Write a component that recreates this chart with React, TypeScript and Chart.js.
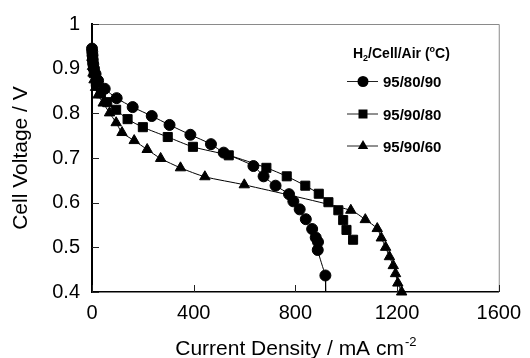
import React, { useEffect, useRef } from 'react';
import { Chart, registerables } from 'chart.js';
Chart.register(...registerables);

// ---- data (current density mA/cm², cell voltage V) ----
const circleX = [0, 1, 2, 3, 5, 8, 14, 24, 50, 97, 160, 235, 305, 387, 468, 518, 635, 675, 722, 775, 792, 817, 841, 866, 880, 889, 888, 918];
const circleY = [0.945, 0.938, 0.93, 0.92, 0.91, 0.9, 0.888, 0.873, 0.855, 0.834, 0.814, 0.794, 0.774, 0.752, 0.731, 0.712, 0.682, 0.659, 0.638, 0.619, 0.603, 0.585, 0.563, 0.541, 0.522, 0.512, 0.494, 0.437];
const circleTailX = [918, 919];
const circleTailY = [0.437, 0.4];

const squareX = [0, 2, 4, 7, 15, 35, 60, 95, 140, 200, 298, 397, 538, 686, 766, 839, 892, 930, 969, 988, 1001, 1027];
const squareY = [0.935, 0.92, 0.905, 0.89, 0.87, 0.845, 0.825, 0.808, 0.787, 0.769, 0.747, 0.725, 0.706, 0.678, 0.659, 0.638, 0.62, 0.601, 0.583, 0.561, 0.539, 0.517];

const triangleX = [0, 2, 4, 8, 14, 24, 44, 69, 95, 118, 166, 217, 270, 348, 444, 599, 1018, 1075, 1122, 1138, 1155, 1170, 1185, 1194, 1203, 1218];
const triangleY = [0.925, 0.905, 0.89, 0.875, 0.858, 0.841, 0.823, 0.801, 0.779, 0.757, 0.739, 0.719, 0.699, 0.678, 0.658, 0.64, 0.583, 0.562, 0.542, 0.521, 0.5, 0.479, 0.459, 0.441, 0.42, 0.4];

const seriesLabels = ['95/80/90', '95/90/80', '95/90/60'];
const seriesStyles = ['circle', 'rect', 'triangle'];
const xTicks = [0, 400, 800, 1200, 1600];
const yTicks = [0.4, 0.5, 0.6, 0.7, 0.8, 0.9, 1];

const FONT = '"Liberation Sans", Arial, Helvetica, sans-serif';

const pts = (xs: number[], ys: number[]) => xs.map((x, i) => ({ x, y: ys[i] }));

const framePlugin = {
  id: 'frameTicks',
  beforeDatasetsDraw(chart: any) {
    const { ctx, chartArea: a, scales } = chart;
    ctx.save();
    ctx.strokeStyle = '#8a8a8a';
    ctx.lineWidth = 1;
    ctx.beginPath();
    ctx.moveTo(a.left, a.top + 0.5);
    ctx.lineTo(a.right + 0.5, a.top + 0.5);
    ctx.lineTo(a.right + 0.5, a.bottom);
    ctx.stroke();
    ctx.strokeStyle = '#222';
    ctx.beginPath();
    for (const v of xTicks) {
      const px = Math.round(scales.x.getPixelForValue(v)) + 0.5;
      ctx.moveTo(px, a.bottom);
      ctx.lineTo(px, a.bottom - 7);
    }
    for (const v of yTicks) {
      const py = Math.round(scales.y.getPixelForValue(v)) + 0.5;
      ctx.moveTo(a.left, py);
      ctx.lineTo(a.left + 7, py);
    }
    ctx.stroke();
    ctx.restore();
  },
};

function drawMarker(ctx: CanvasRenderingContext2D, style: string, x: number, y: number) {
  ctx.beginPath();
  if (style === 'circle') {
    ctx.arc(x, y, 5.5, 0, Math.PI * 2);
  } else if (style === 'rect') {
    ctx.rect(x - 4.5, y - 4.5, 9, 9);
  } else {
    const r = 6;
    ctx.moveTo(x, y - r);
    ctx.lineTo(x + r * Math.sin((2 * Math.PI) / 3), y + r / 2);
    ctx.lineTo(x - r * Math.sin((2 * Math.PI) / 3), y + r / 2);
    ctx.closePath();
  }
  ctx.fill();
}

const annotPlugin = {
  id: 'annot',
  afterDraw(chart: any) {
    const { ctx, chartArea: a } = chart;
    ctx.save();
    ctx.fillStyle = '#000';
    ctx.textBaseline = 'alphabetic';
    ctx.textAlign = 'left';
    // legend title: H2/Cell/Air (oC)
    let x = a.left + 261;
    const ty = a.top + 34;
    const big = `bold 14px ${FONT}`;
    const small = `bold 9px ${FONT}`;
    const parts: [string, string, number][] = [
      ['H', big, 0],
      ['2', small, 3],
      ['/Cell/Air (', big, 0],
      ['o', small, -6],
      ['C)', big, 0],
    ];
    for (const [t, f, dy] of parts) {
      ctx.font = f;
      ctx.fillText(t, x, ty + dy);
      x += ctx.measureText(t).width;
    }
    const itemBase = [a.top + 63, a.top + 95.5, a.top + 127.5];
    seriesLabels.forEach((lab, i) => {
      const by = itemBase[i];
      const my = by - 5.5;
      ctx.strokeStyle = '#222';
      ctx.lineWidth = 1;
      ctx.beginPath();
      ctx.moveTo(a.left + 255, my);
      ctx.lineTo(a.left + 286, my);
      ctx.stroke();
      drawMarker(ctx, seriesStyles[i], a.left + 271, my);
      ctx.font = `bold 15px ${FONT}`;
      ctx.fillText(lab, a.left + 291, by);
    });
    // x axis title with superscript
    const main = 'Current Density / mA cm';
    const sup = '-2';
    ctx.font = `21px ${FONT}`;
    const wMain = ctx.measureText(main).width;
    ctx.font = `13px ${FONT}`;
    const wSup = ctx.measureText(sup).width;
    const cx = (a.left + a.right) / 2;
    const sx = cx - (wMain + wSup) / 2;
    const base = 355;
    ctx.font = `21px ${FONT}`;
    ctx.fillText(main, sx, base);
    ctx.font = `13px ${FONT}`;
    ctx.fillText(sup, sx + wMain + 1, base - 9);
    ctx.restore();
  },
};

export default function App() {
  const ref = useRef<HTMLCanvasElement>(null);
  useEffect(() => {
    document.body.style.margin = '0';
    const canvas = ref.current!;
    const common = {
      borderColor: '#000',
      backgroundColor: '#000',
      pointBackgroundColor: '#000',
      pointBorderColor: '#000',
      borderWidth: 1,
      tension: 0.25,
      clip: false as any,
    };
    const chart = new Chart(canvas, {
      type: 'line',
      data: {
        datasets: [
          { ...common, label: seriesLabels[0], data: pts(circleTailX, circleTailY), pointRadius: 0, tension: 0 },
          { ...common, label: seriesLabels[0], data: pts(circleX, circleY), pointStyle: 'circle', pointRadius: 5.5 },
          { ...common, label: seriesLabels[1], data: pts(squareX, squareY), pointStyle: 'rect', pointRadius: 6.4 },
          { ...common, label: seriesLabels[2], data: pts(triangleX, triangleY), pointStyle: 'triangle', pointRadius: 6 },
        ],
      },
      options: {
        responsive: false,
        animation: false,
        devicePixelRatio: 1,
        layout: { padding: { left: 0, right: 23, top: 17, bottom: 0 } },
        plugins: { legend: { display: false }, tooltip: { enabled: false } },
        elements: { point: { borderWidth: 0, hoverRadius: 0 } },
        scales: {
          x: {
            type: 'linear',
            min: 0,
            max: 1600,
            afterBuildTicks: (s: any) => { s.ticks = xTicks.map((v) => ({ value: v })); },
            afterFit: (s: any) => { s.height = 66; },
            grid: { display: true, drawOnChartArea: false, drawTicks: false },
            border: { display: true, color: '#000', width: 1.5 },
            ticks: {
              color: '#000',
              padding: 9,
              font: { family: FONT, size: 20 },
              maxRotation: 0,
              callback: (v: any) => String(v),
            },
          },
          y: {
            type: 'linear',
            min: 0.4,
            max: 1,
            afterBuildTicks: (s: any) => { s.ticks = yTicks.map((v) => ({ value: v })); },
            afterFit: (s: any) => { s.width = 92; },
            grid: { display: true, drawOnChartArea: false, drawTicks: false },
            border: { display: true, color: '#000', width: 2 },
            ticks: {
              color: '#000',
              padding: 12,
              font: { family: FONT, size: 20 },
              callback: (v: any) => String(Number(Number(v).toFixed(1))),
            },
            title: {
              display: true,
              text: 'Cell Voltage / V',
              color: '#000',
              font: { family: FONT, size: 21 },
              padding: { top: 9, bottom: 0 },
            },
          },
        },
      },
      plugins: [framePlugin, annotPlugin],
    });
    return () => chart.destroy();
  }, []);
  return (
    <div style={{ width: 530, height: 358 }}>
      <canvas ref={ref} width={530} height={358} style={{ display: 'block' }} />
    </div>
  );
}
